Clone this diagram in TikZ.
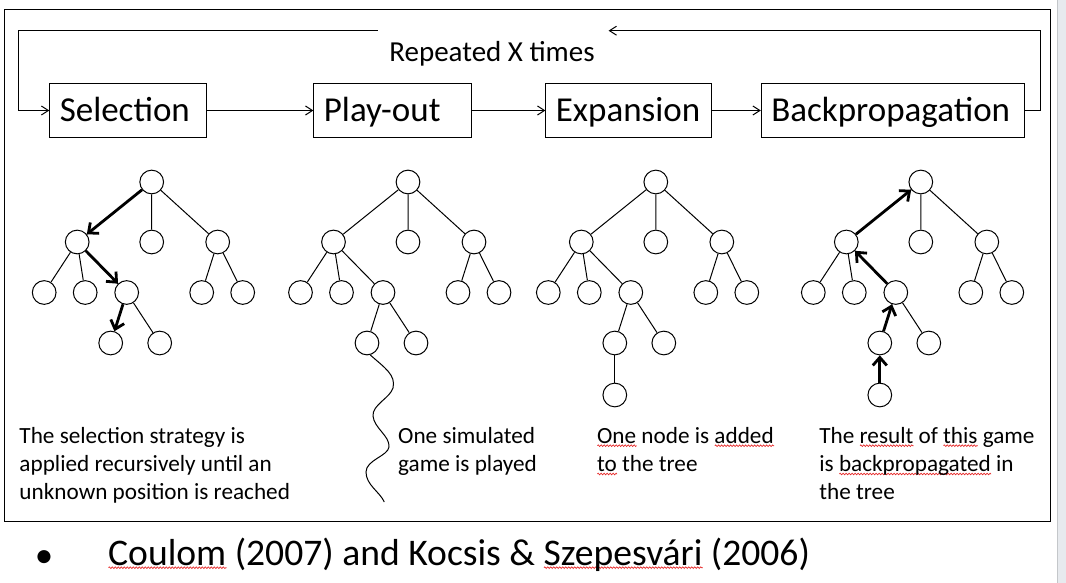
\documentclass[tikz,border=0pt]{standalone}
\usepackage{fontspec}
\setmainfont{Carlito}
\usetikzlibrary{arrows.meta,positioning,decorations.pathmorphing}

\definecolor{spellred}{RGB}{230,40,40}
\definecolor{sidebar}{RGB}{231,234,238}

\newdimen\spellwd
\newcommand\spellerr[1]{\setbox0=\hbox{#1}\spellwd=\wd0\rlap{\tikz[baseline=0pt,x=1pt,y=1pt]\draw[spellred,line width=0.7pt,decorate,decoration={zigzag,segment length=3pt,amplitude=0.8pt}] (0,-2.7) -- (\spellwd,-2.7);}#1}

\begin{document}
\begin{tikzpicture}[x=1pt,y=-1pt,line width=1pt,>={Straight Barb[length=7pt,width=9pt]},
  box/.style={draw,align=left,inner xsep=10pt,minimum height=54.4pt,text height=22.5pt,text depth=0pt,font=\fontsize{35}{42}\selectfont},
  vertex/.style={circle,draw,minimum size=23.7pt,inner sep=0pt},
  walk/.style={line width=2.8pt,-{Straight Barb[length=8pt,width=14pt]}},
  note/.style={anchor=base west,align=left,inner sep=0pt,font=\fontsize{23.2}{28.3}\selectfont}]
  \useasboundingbox (0,0) rectangle (1066,583);
  \fill[sidebar] (1057,0) rectangle (1066,583);
  \draw[sidebar!85!black] (1057,0) -- (1057,583);
  \draw (4,10) rectangle (1050,521);

  % the four phases
  \node[box,anchor=west,text width=136.4pt] (sel) at (49.3,110.5) {Selection};
  \node[box,text width=137.4pt] (play) [right=106.7pt of sel] {Play-out};
  \node[box,text width=145.8pt] (exp)  [right=73.6pt of play] {Expansion};
  \node[box,text width=242.9pt] (bp)   [right=48.6pt of exp]  {Backpropagation};
  \path[->] (sel) edge (play) (play) edge (exp) (exp) edge (bp);

  \node[anchor=base,inner sep=0pt,font=\fontsize{29}{35}\selectfont] (rep) at (492,62) {Repeated X times};
  \coordinate (loopr) at (1040.4,30.7);
  \coordinate (loopend) at (608.6,30.7);
  \coordinate (loopstart) at (377.8,30.7);
  \coordinate (loopl) at (18.3,30.7);
  \draw[->] (bp) -| (loopr) -- (loopend);
  \draw[->] (loopstart) -- (loopl) |- (sel);

  % trees
  \foreach \t/\x in {1/151.7,2/408,3/655.8,4/920.8}{
    \node[vertex] (r\t)  at (\x,182) {};
    \node[vertex] (ca\t) at (\x-74.5,242) {};
    \node[vertex] (cb\t) at (\x,242) {};
    \node[vertex] (cc\t) at (\x+66,242) {};
    \node[vertex] (ga\t) at (\x-107.5,292.5) {};
    \node[vertex] (gb\t) at (\x-66.5,292.5) {};
    \node[vertex] (gc\t) at (\x-25,292.5) {};
    \node[vertex] (gd\t) at (\x+50,292.5) {};
    \node[vertex] (ge\t) at (\x+91,292.5) {};
    \node[vertex] (da\t) at (\x-41,343) {};
    \node[vertex] (db\t) at (\x+8,343) {};
    \draw (r\t) -- (ca\t) (r\t) -- (cb\t) (r\t) -- (cc\t)
          (ca\t) -- (ga\t) (ca\t) -- (gb\t) (ca\t) -- (gc\t)
          (cc\t) -- (gd\t) (cc\t) -- (ge\t)
          (gc\t) -- (da\t) (gc\t) -- (db\t);
  }
  \node[vertex] (e3) at (614.8,395) {};
  \node[vertex] (e4) at (879.8,395) {};
  \draw (da3) -- (e3);
  \path[walk] (r1) edge (ca1) (ca1) edge (gc1) (gc1) edge (da1);
  \path[walk] (e4) edge (da4) (da4) edge (gc4) (gc4) edge (ca4) (ca4) edge (r4);

  % random game of the play-out
  \coordinate (wavend) at (384.3,502);
  \draw (da2.-75) .. controls (385,368) and (396,375) .. (393,388)
        .. controls (390,398) and (372,405) .. (373,416)
        .. controls (374,428) and (390,436) .. (389,447)
        .. controls (388,456) and (366,460) .. (366,472)
        .. controls (366,485) and (380,492) .. (wavend);

  % captions (base = last line)
  \node[note] (t1) at (19,499.6) {The selection strategy is\\applied recursively until an\\unknown position is reached};
  \node[note] (t2) at (397.7,471.3) {One simulated\\game is played};
  \node[note] (t3) at (596.9,471.3) {\spellerr{One} node is \spellerr{added}\\\spellerr{to} the tree};
  \node[note] (t4) at (819.2,499.6) {The \spellerr{result} of \spellerr{this} game\\is \spellerr{backpropagated} in\\the tree};

  \node[anchor=base,inner sep=0pt,font=\fontsize{37}{44}\selectfont] (dot) at (44,567) {•};
  \node[anchor=base west,inner sep=0pt,font=\fontsize{37.6}{45}\selectfont] (cite) at (108,565) {\spellerr{Coulom} (2007) and Kocsis \& \spellerr{Szepesvári} (2006)};
\end{tikzpicture}
\end{document}
